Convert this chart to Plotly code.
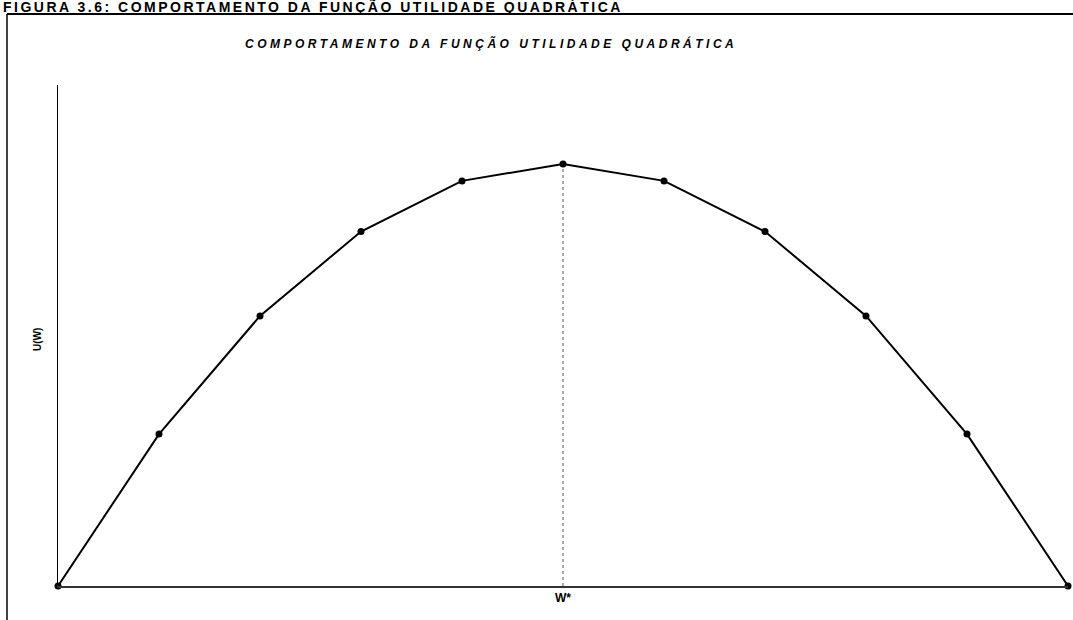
import plotly.graph_objects as go

# Wealth levels (W* sits at the middle point) and the quadratic utility U(W)
wealth = [0, 1, 2, 3, 4, 5, 6, 7, 8, 9, 10]
utility = [0, 9, 16, 21, 24, 25, 24, 21, 16, 9, 0]
w_star = 5
tick_vals = [5]
tick_text = ["W*"]

W, H = 1073, 620
L, R, T, B = 58, 5, 85, 34
pw, ph = W - L - R, H - T - B


def px(x):
    return (x - L) / pw


def py(y):
    return (H - B - y) / ph


fig = go.Figure()

# dotted drop line from the maximum down to W*
fig.add_trace(go.Scatter(
    x=[w_star, w_star], y=[0, max(utility)], mode="lines",
    line=dict(color="#555555", width=1, dash="dot"),
    hoverinfo="skip", showlegend=False, cliponaxis=False,
))

fig.add_trace(go.Scatter(
    x=wealth, y=utility, mode="lines+markers",
    line=dict(color="black", width=2),
    marker=dict(color="black", size=7),
    showlegend=False, cliponaxis=False,
))

font = "Liberation Sans, Arial, sans-serif"

fig.update_layout(
    width=W, height=H,
    margin=dict(l=L, r=R, t=T, b=B, pad=0),
    paper_bgcolor="white", plot_bgcolor="white",
    xaxis=dict(range=[0, 10], showgrid=False, zeroline=False,
               showline=True, linecolor="#333333", linewidth=1.5,
               tickvals=tick_vals, ticktext=tick_text, ticks="",
               tickfont=dict(family=font, size=12, color="black",
                             weight="bold")),
    yaxis=dict(range=[0, 29.68], showgrid=False, zeroline=False,
               showline=True, linecolor="black", linewidth=1.2,
               showticklabels=False, ticks=""),
    shapes=[
        dict(type="line", xref="paper", yref="paper",
             x0=px(7), x1=px(W), y0=py(14), y1=py(14),
             line=dict(color="black", width=2)),
        dict(type="line", xref="paper", yref="paper",
             x0=px(7), x1=px(7), y0=py(14), y1=py(H),
             line=dict(color="black", width=1.5)),
    ],
    annotations=[
        dict(text="<b><span style='letter-spacing:2.5px'>FIGURA 3.6: COMPORTAMENTO DA FUNÇÃO UTILIDADE QUADRÁTICA</span></b>",
             xref="paper", yref="paper", x=px(1), y=py(6),
             xanchor="left", yanchor="middle", showarrow=False,
             font=dict(family=font, size=14, color="black")),
        dict(text="<b><i><span style='letter-spacing:3.5px'>COMPORTAMENTO DA FUNÇÃO UTILIDADE QUADRÁTICA</span></i></b>",
             xref="paper", yref="paper", x=px(491), y=py(43),
             xanchor="center", yanchor="middle", showarrow=False,
             font=dict(family=font, size=12, color="black")),
        dict(text="<b>U(W)</b>", textangle=-90,
             xref="paper", yref="paper", x=px(37), y=py(340),
             xanchor="center", yanchor="middle", showarrow=False,
             font=dict(family=font, size=10, color="black")),
    ],
)

fig.write_html("out.html")
